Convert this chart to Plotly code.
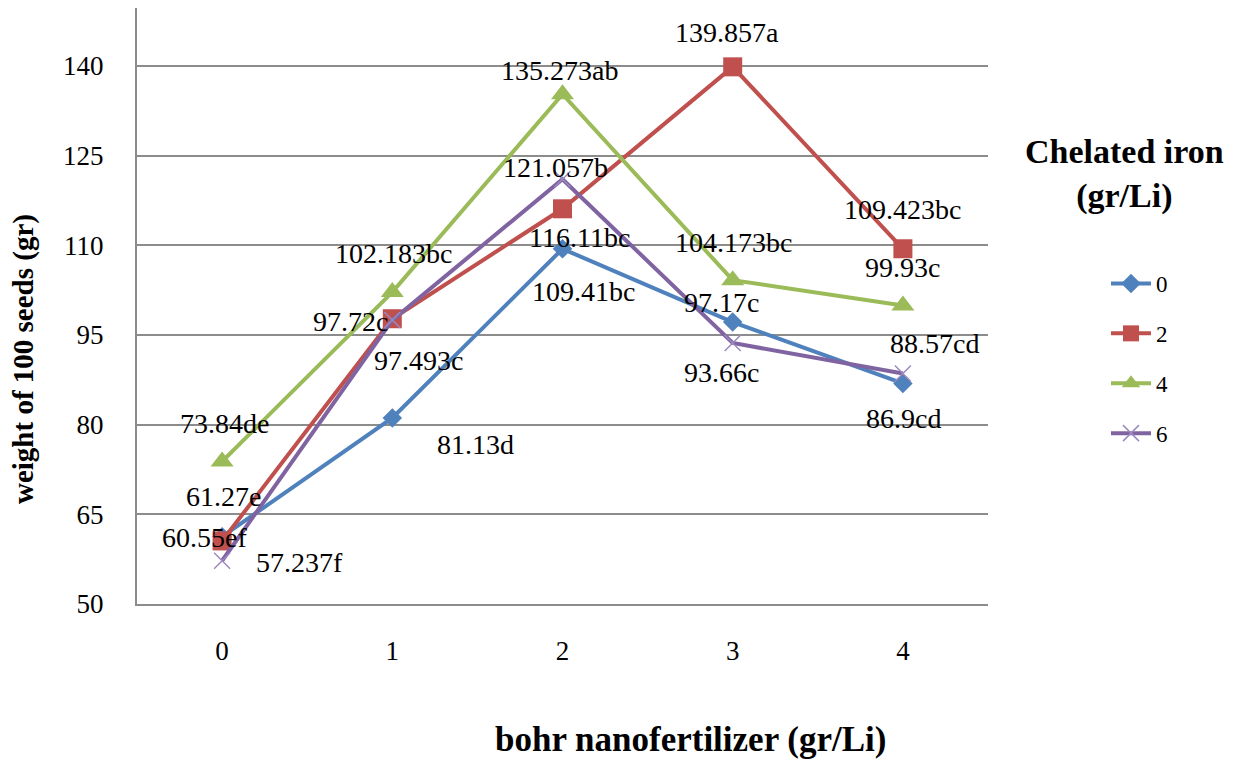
import plotly.graph_objects as go

# ---- data ----
x_levels = [0, 1, 2, 3, 4]
series_names = ["0", "2", "4", "6"]
vals_fe0 = [61.27, 81.13, 109.41, 97.17, 86.9]
vals_fe2 = [60.55, 97.72, 116.11, 139.857, 109.423]
vals_fe4 = [73.84, 102.183, 135.273, 104.173, 99.93]
vals_fe6 = [57.237, 97.493, 121.057, 93.66, 88.57]
letters_fe0 = ["e", "d", "bc", "c", "cd"]
letters_fe2 = ["ef", "c", "bc", "a", "bc"]
letters_fe4 = ["de", "bc", "ab", "bc", "c"]
letters_fe6 = ["f", "c", "b", "c", "cd"]
y_ticks = [50, 65, 80, 95, 110, 125, 140]

# ---- styles ----
colors = ["#4F81BD", "#C0504D", "#9BBB59", "#8064A2"]
symbols = ["diamond", "square", "triangle-up", "x-thin"]
msizes = [15, 19, 20, 16]
label_offsets = [
    [(1, 40), (83, -27), (21, -43), (-11, 20), (1, -35)],
    [(-18, 3), (-42, -3), (17, -29), (-6, 34), (0, 39)],
    [(2, 38), (1, 39), (-3, 24), (1, 38), (0, 38)],
    [(77, -2), (26, -40), (-7, 12), (-11, -29), (32, 30)],
]
FONT = "Liberation Serif, Times New Roman, DejaVu Serif, serif"

all_vals = [vals_fe0, vals_fe2, vals_fe4, vals_fe6]
all_letters = [letters_fe0, letters_fe2, letters_fe4, letters_fe6]

fig = go.Figure()
for i, (name, vals) in enumerate(zip(series_names, all_vals)):
    if symbols[i] == "x-thin":
        marker = dict(symbol="x-thin", size=msizes[i], color=colors[i],
                      line=dict(color="#9C8AC0", width=1.5))
    else:
        marker = dict(symbol=symbols[i], size=msizes[i], color=colors[i],
                      line=dict(width=0))
    fig.add_trace(go.Scatter(
        x=x_levels, y=vals, name=name, mode="lines+markers",
        line=dict(color=colors[i], width=4),
        marker=marker, legendgroup=name,
    ))

annotations = []
for i, vals in enumerate(all_vals):
    for j, v in enumerate(vals):
        dx, dy = label_offsets[i][j]
        annotations.append(dict(
            x=x_levels[j], y=v, xref="x", yref="y",
            text=f"{v}{all_letters[i][j]}", showarrow=False,
            xshift=dx, yshift=dy, xanchor="center", yanchor="middle",
            font=dict(family=FONT, size=28, color="black"),
        ))

# axis titles and legend title (pixel positions, converted below)
L, R, T, B = 137, 250, 8, 155
W, H = 1238, 759
pw, ph = W - L - R, H - T - B
pixel_texts = [
    (690, 740, "<b>bohr nanofertilizer (gr/Li)</b>", 35, 0),
    (23, 359, "<b>weight of 100 seeds (gr)</b>", 29, -90),
    (1124, 174, "<b>Chelated iron<br>(gr/Li)</b>", 34, 0),
]
for px, py, txt, fs, ang in pixel_texts:
    annotations.append(dict(
        x=(px - L) / pw, y=(H - B - py) / ph, xref="paper", yref="paper",
        xanchor="center", yanchor="middle", text=txt, textangle=ang,
        showarrow=False, font=dict(family=FONT, size=fs, color="black")))

fig.update_layout(
    width=W, height=H,
    margin=dict(l=L, r=R, t=T, b=B),
    paper_bgcolor="white", plot_bgcolor="white",
    font=dict(family=FONT, color="black"),
    annotations=annotations,
    showlegend=True,
    legend=dict(
        x=(1106 - L) / pw, y=(H - B - 262) / ph, xanchor="left", yanchor="top",
        font=dict(family=FONT, size=23, color="black"),
        traceorder="grouped", tracegroupgap=17, itemwidth=40,
        bgcolor="rgba(0,0,0,0)",
    ),
    xaxis=dict(
        range=[-0.5, 4.5], tickvals=x_levels, ticktext=[str(v) for v in x_levels],
        showgrid=False, zeroline=False, showline=True, linecolor="#8C8C8C", linewidth=2,
        ticks="outside", ticklen=22, tickcolor="rgba(0,0,0,0)",
        tickfont=dict(family=FONT, size=27, color="black"),
    ),
    yaxis=dict(
        range=[50, 149.7], tickvals=y_ticks,
        showgrid=True, gridcolor="#8C8C8C", gridwidth=1.5, zeroline=False,
        showline=True, linecolor="#8C8C8C", linewidth=2,
        ticks="outside", ticklen=26, tickcolor="rgba(0,0,0,0)",
        tickfont=dict(family=FONT, size=27, color="black"),
    ),
)

fig.write_html("out.html")
